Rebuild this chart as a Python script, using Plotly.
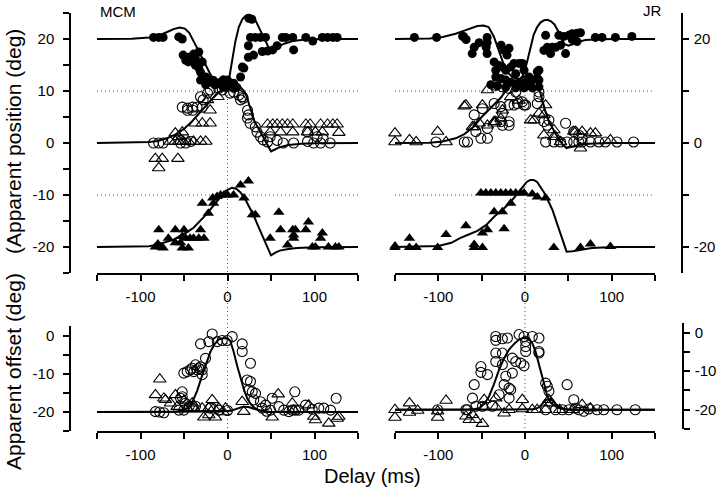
import plotly.graph_objects as go

# ---------------- MCM, apparent position ----------------
mcm_fc_x = [-85,-79,-74,-56,-52,-51,-45,-39,-33,-37,-45,-48,-37,-33,-29,-31,-25,-20,-14,-6,0,-5,-31,-25,-20,-16,-25,-14.6,-8,-4.6,0,3.4,-1.5,-5,7,10.7,1,7,15,17,18.8,24,30,24,24.5,28,26.4,32,37.9,43.7,40,46,52,57,63,67,75,76,90,98,109,115,121,126]
mcm_fc_y = [20.3,20.3,20.3,20.4,20.0,16.9,16.5,17.1,17.5,16.3,15.6,15.9,15.0,14.4,15.6,13.6,12.7,11.7,11.5,11.5,11.1,12.1,12.1,12.1,12.1,12.0,11.2,11.2,11.7,12.1,12.1,11.5,10.7,10.7,10.5,10.7,11.1,11.5,12.7,14.6,14.4,16.5,16.9,18.7,24.0,23.8,20.3,20.3,20.3,20.3,17.6,17.7,17.9,18.7,20.3,20.3,20.3,17.9,20.3,19.6,20.3,20.3,20.3,20.3]

mcm_oc_x = [-85,-79,-74,-54,-48,-42,-52,-46,-40,-35,-29,-46,-40,-23,-20,-28,-31,-10,-6,3,7,13,18,17,15,23,24,23,26,32,34,38,41,46,49,57,64,76,92,99,107,118,92,103,110]
mcm_oc_y = [0,0,0,0,0,0.3,6.9,6.7,6.9,6.9,6.9,6.3,6.3,9.6,10.2,8.3,8.9,10.5,10.2,9.6,9.8,9.2,8.6,8.9,8.3,6.3,5.4,4.8,3.8,3.1,2.1,1.2,0.6,0.2,1.2,0.5,0,0,0.3,0,0,0,2.1,1.2,0.8]

mcm_ot_x = [-66,-60,-56,-51,-45,-39,-31,-25,-60,-52,-56,-37,-29,-20,-20,-23,-11,-83,-75,-79,-57,46,52,57,63,69,75,90,95,107,115,121,126,49,61,75,92,101,109,128]
mcm_ot_y = [0.3,0.3,0.3,0.3,0.3,0.3,0.3,0.3,1.9,2.1,1.2,3.8,3.8,3.8,6.3,8.3,8.9,-3,-3,-4.8,-3,3.6,3.6,3.6,3.6,3.6,3.6,3.6,3.6,3.6,3.6,3.6,3.6,2.1,2.1,2.1,2.1,2.1,2.1,2.0]

mcm_ft_x = [-83,-77,-74,-80,-79,-68,-60,-60,-54,-50,-52,-48,-52,-45,-43,-39,-33,-31,-27,-29,-22,-17,-16,-12,-8,-4,0,7,15,24,19,28.6,32,49,59,61,69,75,76,76,78,90,93,97.5,101,107,109,116,124,128]
mcm_ft_y = [-20,-20,-20.2,-19.4,-16.7,-18.3,-16.7,-19.2,-19.2,-16.7,-18,-18.3,-20.2,-20.2,-18.3,-18.3,-18.3,-16.7,-18.3,-11.6,-13.5,-10.6,-11.6,-10.3,-10,-10,-10,-10,-8.1,-7.3,-10.6,-13.8,-13.8,-18.3,-13.3,-16.7,-19.6,-16.7,-17.7,-18.3,-16.7,-16.7,-15.2,-20,-20,-18.3,-17.3,-20,-20,-20]

mcm_cA_x = [-150,-110,-90,-80,-70,-62,-55,-49,-44,-40,-35,-29,-24,-19,-15,-10,-5,-1,2,5,9,13,17,21,25,29,33,37,41,45,49,53,57,65,75,90,110,150]
mcm_cA_y = [20,20.05,20.3,20.6,21.3,21.9,22.2,22.0,21.2,20.0,18.3,16.3,14.6,13.0,12.2,11.5,11.0,10.8,12.5,15.8,19.5,22.3,23.8,24.5,24.6,24.2,23.3,21.9,20.6,19.0,17.8,17.8,18.4,19.1,19.6,19.9,20,20]
mcm_cB_x = [-150,-110,-90,-80,-70,-60,-50,-40,-30,-23,-17,-12,-8,-4,0,5,10,15,19,22,25,28,31,35,39,43,47,50,55,60,70,85,100,150]
mcm_cB_y = [0,0.05,0.2,0.4,0.9,1.6,2.7,4.3,6.2,7.4,8.6,9.4,10.0,10.4,10.7,11.0,11.0,10.7,10.0,9.0,7.3,5.5,4.2,3.0,1.8,0.6,-0.7,-1.6,-1.2,-0.8,-0.4,-0.15,-0.05,0]
mcm_cC_x = [-150,-110,-90,-80,-70,-62,-55,-47,-39,-31,-23,-15,-8,-2,5,10,15,20,25,30,35,40,45,50,55,60,70,80,100,150]
mcm_cC_y = [-20,-19.95,-19.85,-19.5,-19.0,-18.6,-17.9,-17.2,-16.3,-15.0,-13.5,-11.8,-10.3,-9.2,-8.6,-8.8,-9.5,-10.7,-12.3,-13.9,-15.9,-17.8,-19.7,-21.6,-21.1,-20.7,-20.4,-20.2,-20.05,-20]

# ---------------- JR, apparent position ----------------
jr_fc_x = [-127.6,-102,-72,-71,-68,-58.6,-52.9,-43.7,-43.7,-44.8,-60.9,-43.7,-27.6,-24,-18.4,-20.7,-35.6,-33.7,-29.9,-26.1,-22.2,-16.5,-12.6,-6.9,-3.1,-10.7,-1.1,4.6,8.4,14.2,16.1,-33.7,-27.9,-22.2,-16.5,-10.7,-4.9,0.8,-39.4,-31.8,-22.2,-10.7,-1.1,8.4,16.1,23.8,21.8,25.7,31.4,29.5,39.1,44.8,50.6,54.4,60.1,64.0,46.8,54.4,60.1,81.2,88.9,104.3,123.3,29.5,35.3,41.0,16.1,14.2,6.5,0.8]
jr_fc_y = [20.3,20.3,20.5,20.5,19.9,18.4,19.3,20.3,19.3,18.4,17.2,17.2,18.8,17.8,18.2,16.9,15.6,14.0,14.9,14.6,14.0,14.6,15.3,15.3,15.3,13.3,14.0,12.7,12.1,13.7,12.1,12.7,12.4,12.1,11.7,11.4,11.7,11.7,11.2,11.0,10.7,10.6,10.6,10.6,10.8,20.7,17.8,18.4,18.4,17.2,20.7,20.5,20.7,21.0,21.1,21.2,17.2,19.9,19.5,20.3,20.3,20.3,20.5,18.1,18.4,18.8,14.0,12.4,12.1,11.1]

jr_oc_x = [-102.7,-70.1,-66.3,-50.9,-43.3,-58.6,-49.1,-56.7,-43.3,-35.6,-27.9,-26.1,-18.4,-18.4,-18.4,-26.1,-27.9,-33.7,-26.1,-18.4,-10.7,-3.1,0.8,-12.6,-8.8,-1.1,14.2,16.1,16.1,21.8,25.7,27.6,46.8,23.8,33.3,41.0,48.6,56.3,62.1,65.9,75.5,85.1,92.7,106.1,125.3,56.3,62.1,65.9]
jr_oc_y = [0.2,0.2,0.2,0.9,0.9,5.4,6.6,2.2,2.8,7.6,7.0,5.7,7.3,4.1,3.4,3.4,4.1,11.1,10.8,10.5,9.8,7.9,7.3,7.3,7.6,7.3,7.6,8.9,9.8,4.1,3.4,4.4,3.8,0.2,0.2,0.2,0.2,0.2,0.2,0.2,0.2,0.2,0.2,0.2,0.2,2.2,1.5,0.9]

jr_ot_x = [-177,-150,-150,-133.3,-125.6,-100.8,-91.1,-68.2,-49.1,-43.3,-58.6,-33.7,-27.9,-35.6,-60.6,-52.9,-43.3,-35.6,-26.1,-16.5,-6.9,-70.1,10.3,16.1,23.8,21.8,21.8,33.3,33.3,56.3,65.9,75.5,64,98.5,41,6.5,35.3,58.3,81.2]
jr_ot_y = [2.2,1.9,0.2,0.6,0.2,2.2,0.2,7.3,7.3,10.2,3.1,4.1,4.7,4.1,3.1,3.8,3.4,3.8,6.3,8.9,8.2,7.1,4.4,5.7,7.3,5.4,1.5,2.5,1.2,2.2,2.2,1.9,-1.0,0.6,0.2,4.4,1.2,2.2,1.9]

jr_ft_x = [-177,-150,-150,-133.3,-133.3,-125.6,-100.8,-91.1,-68.2,-58.6,-58.6,-49.1,-49.1,-43.3,-35.6,-26.1,-24.1,-16.5,-50.9,-45.2,-39.4,-33.7,-27.9,-22.2,-16.5,-10.7,-4.9,-1.1,8.4,14.2,23.8,33.3,64.0,75.5,98.5]
jr_ft_y = [-20.1,-20.1,-19.8,-18.3,-20.1,-20.1,-20.1,-17.6,-15.9,-19.5,-20.1,-20.1,-17.3,-16.7,-13.2,-13.2,-16.5,-11.6,-9.6,-9.6,-9.6,-9.6,-9.6,-9.6,-9.6,-9.6,-9.6,-9.6,-9.8,-10.4,-10.6,-20.1,-20.1,-19.4,-19.9]

jr_cA_x = [-150,-110,-95,-80,-70,-62,-55,-48,-42,-36,-30,-25,-20,-15,-10,-6,-3,0,3,6,10,14,18,22,26,30,34,38,42,46,50,55,62,70,85,110,150]
jr_cA_y = [20,20.1,20.4,21.0,21.6,22.1,22.5,22.6,22.3,20.5,17.5,15.3,13.6,12.7,12.4,12.3,12.8,14.0,16.0,18.2,20.8,22.3,23.2,23.6,23.7,23.4,22.8,21.6,20.0,19.0,18.7,19.0,19.5,19.8,19.95,20,20]
jr_cB_x = [-150,-110,-95,-80,-70,-60,-50,-42,-35,-28,-20,-13,-7,-2,3,8,12,16,20,24,28,32,36,40,44,48,52,58,65,80,100,150]
jr_cB_y = [0,0.05,0.3,0.9,1.7,3.0,5.0,6.3,7.5,8.7,10.6,11.6,12.2,12.7,13.0,12.9,12.3,10.7,8.2,5.8,4.0,2.7,1.6,0.5,-0.4,-1.0,-0.8,-0.5,-0.25,-0.1,0,0]
jr_cC_x = [-150,-100,-85,-75,-65,-55,-45,-35,-25,-18,-10,-3,2,6,10,14,18,22,27,32,37,42,48,55,65,77,90,110,150]
jr_cC_y = [-20,-19.8,-19.2,-18.3,-17.6,-16.9,-15.8,-14.1,-12.7,-11.6,-10.0,-8.4,-7.5,-7.1,-7.1,-7.5,-8.4,-9.5,-11.2,-13.0,-15.5,-17.9,-20.9,-20.8,-20.5,-20.2,-20.1,-20,-20]

# ---------------- MCM, apparent offset ----------------
mcm_off_oc_x = [-17.6,5.4,-31,-21.5,-11.8,-6.1,-0.4,16.9,16.9,-25.3,-31,-36.8,-40.6,-50.2,-46.3,-42.5,-38.7,-34.8,-33,-29.1,-29.1,26.4,22.6,26.4,24.5,28.4,32.2,30.2,-52.1,-52.1,-54,-48.3,-56,-50.2,-82.8,-73.2,-78,-40.6,-36.8,-44,37.9,43.7,39.8,51.4,59,49.4,64.7,70.5,74.4,77.4,89.7,97.4,104.9,110.7,118.4,124.9,78.2,82,-20,-10,0,45]
mcm_off_oc_y = [0.5,-0.2,-2.1,-1.5,-1.5,-1.2,-1.2,-2.1,-4.1,-5.9,-8.1,-7.6,-8.5,-9.8,-9.4,-8.9,-9.4,-8.9,-8.5,-8.9,-10.2,-7.2,-11.6,-12.0,-14.2,-14.7,-15.1,-16.8,-14.7,-16,-16.4,-17.7,-19.5,-19.5,-19.9,-20.2,-20,-18.5,-18.5,-18.5,-17.3,-18.2,-19.0,-16.4,-18.6,-19.5,-19.5,-19.9,-19.5,-14.7,-18.2,-19.3,-19.0,-19.0,-19.5,-16.4,-19.5,-19.5,-19,-19.5,-19.6,-19.8]
mcm_off_ot_x = [-77.8,-82.8,-73.2,-71.3,-65.5,-59.8,-57.8,-46.3,-38.7,-29.1,-21.5,-15.7,-10,-2.3,-17.6,-27.2,-13.8,-21.5,-40.6,16.9,18.7,51.4,58.3,74.4,76.2,93.4,99.2,101.1,116.4,126.1,128,-50,-5]
mcm_off_ot_y = [-11.4,-15.5,-16.4,-16.8,-17.7,-15.5,-18.6,-19.0,-19.0,-19.0,-19.0,-19.0,-19.0,-19.0,-16.8,-21.4,-21.4,-20.8,-17.7,-17.3,-19.9,-21.4,-15.3,-17.7,-19.5,-18.2,-21.2,-22.1,-23,-21.7,-21.2,-17,-20]
mcm_off_cO_x = [-150,-80,-60,-52,-46,-41,-35,-29,-24,-19.5,-15,-10,-5,0,3,7,11,15,19,23,27,31,35,40,47,55,80,150]
mcm_off_cO_y = [-20,-20,-19.95,-19.7,-19.0,-17.7,-14.5,-10.3,-6.9,-4.1,-2.2,-0.9,-0.6,-0.6,-1.2,-4.1,-7.8,-11.1,-14.2,-16.6,-18.0,-18.9,-19.4,-19.8,-20,-20,-20,-20]
mcm_off_cT_x = [-150,-20,-5,5,12,18,24,30,38,50,150]
mcm_off_cT_y = [-20,-20,-19.9,-19.6,-19.0,-18.6,-18.7,-19.2,-19.7,-20,-20]

# ---------------- JR, apparent offset ----------------
jr_off_oc_x = [-33.7,-33.7,-26.1,-20.3,-6.9,-1.1,8.4,16.1,0.8,0.8,0.8,16.1,16.1,-33.7,-26.1,-33.7,-26.1,-14.6,-10.7,-4.9,-1.1,-14.6,-22.2,-50.9,-50.9,-58.6,-60.6,-43.3,-24.1,-18.4,-16.5,-18.4,-29.9,23.8,25.7,27.6,48.6,56.3,58.3,67.8,73.6,83.1,90.8,106.1,127.2,23.8,35.3,42.9,50.6,62.1,-100.8,-68.2,-66.3,-49.1,-37.6,-56.7]
jr_off_oc_y = [-1.0,-2.0,-1.6,-1.4,-0.5,-1.0,-1.0,-1.4,-2.3,-3.6,-4.9,-4.9,-5.3,-5.3,-5.3,-7.5,-8.3,-6.6,-7.5,-7.9,-8.6,-10.5,-11.3,-8.8,-10.3,-13.5,-17.0,-10.9,-13.5,-14.4,-14.8,-17.0,-16.1,-13.1,-13.9,-15.2,-13.5,-17.4,-19.6,-20.4,-19.8,-20,-20,-20,-20,-20,-20,-20,-20,-20,-20,-20,-20,-19.1,-19.1,-19.1]
jr_off_ot_x = [-177,-150,-150,-133.3,-133.3,-123.8,-100.8,-100.8,-91.1,-68.2,-64.4,-60.6,-56.7,-49.1,-47.1,-47.1,-33.7,-33.7,-24.1,-18.4,-3.1,-3.1,8.4,27.6,29.5,23.8,65.9,75.5,14,40,55]
jr_off_ot_y = [-22.0,-20,-22,-18.3,-20.7,-20.2,-20.4,-22,-17.6,-21.7,-22.6,-21.3,-22.6,-23.6,-19.3,-17.4,-17,-19.3,-20.9,-20,-17.4,-19.8,-20,-17.4,-18.3,-20,-18.7,-19.6,-20,-20,-20]
jr_off_cO_x = [-150,-80,-65,-58,-52.9,-47,-41.4,-36,-29.9,-24,-18.4,-12,-6.9,-2,1,5,8.4,12,15,18,22,25.7,30,35.3,40,45,60,150]
jr_off_cO_y = [-20,-20,-19.95,-19.8,-19.6,-18.5,-16.5,-13.5,-9.6,-6.6,-4.4,-2.8,-1.8,-1.4,-1.4,-1.8,-2.7,-4.8,-7.2,-9.6,-13.2,-16.5,-18.3,-19.1,-19.6,-19.9,-20,-20]
jr_off_cT_x = [-150,0,10,16,20,24,28,32,36,42,50,150]
jr_off_cT_y = [-20,-20,-19.9,-19.4,-18.5,-17.5,-17.2,-17.6,-18.6,-19.6,-20,-20]

FONT = "Liberation Sans, Arial, Helvetica, sans-serif"
W, H = 720, 493

def px(x):
    return x / W

def py(y):
    return 1 - y / H

fig = go.Figure()

def pts(x, y, sym, size, xa, ya, lw=1.1):
    fig.add_trace(go.Scatter(
        x=x, y=y, mode="markers", xaxis=xa, yaxis=ya, cliponaxis=False,
        marker=dict(symbol=sym, size=size, color="black",
                    line=dict(color="black", width=lw)),
        hoverinfo="skip"))

def curve(x, y, xa, ya):
    fig.add_trace(go.Scatter(
        x=x, y=y, mode="lines", xaxis=xa, yaxis=ya, cliponaxis=False,
        line=dict(color="black", width=2), hoverinfo="skip"))

# top-left
pts(mcm_fc_x, mcm_fc_y, "circle", 9, "x", "y", 0)
pts(mcm_oc_x, mcm_oc_y, "circle-open", 10, "x", "y")
pts(mcm_ot_x, mcm_ot_y, "triangle-up-open", 11, "x", "y")
pts(mcm_ft_x, mcm_ft_y, "triangle-up", 10, "x", "y", 0)
curve(mcm_cA_x, mcm_cA_y, "x", "y")
curve(mcm_cB_x, mcm_cB_y, "x", "y")
curve(mcm_cC_x, mcm_cC_y, "x", "y")
# top-right
pts(jr_fc_x, jr_fc_y, "circle", 9, "x2", "y2", 0)
pts(jr_oc_x, jr_oc_y, "circle-open", 10, "x2", "y2")
pts(jr_ot_x, jr_ot_y, "triangle-up-open", 11, "x2", "y2")
pts(jr_ft_x, jr_ft_y, "triangle-up", 10, "x2", "y2", 0)
curve(jr_cA_x, jr_cA_y, "x2", "y2")
curve(jr_cB_x, jr_cB_y, "x2", "y2")
curve(jr_cC_x, jr_cC_y, "x2", "y2")
# bottom-left
pts(mcm_off_oc_x, mcm_off_oc_y, "circle-open", 10, "x3", "y3")
pts(mcm_off_ot_x, mcm_off_ot_y, "triangle-up-open", 11, "x3", "y3")
curve(mcm_off_cO_x, mcm_off_cO_y, "x3", "y3")
curve(mcm_off_cT_x, mcm_off_cT_y, "x3", "y3")
# bottom-right
pts(jr_off_oc_x, jr_off_oc_y, "circle-open", 10, "x4", "y4")
pts(jr_off_ot_x, jr_off_ot_y, "triangle-up-open", 11, "x4", "y4")
curve(jr_off_cO_x, jr_off_cO_y, "x4", "y4")
curve(jr_off_cT_x, jr_off_cT_y, "x4", "y4")

x_ticks = [-150, -100, -50, 0, 50, 100, 150]
x_text = ["", "-100", "", "0", "", "100", ""]

def xaxis(dom, pos):
    return dict(domain=dom, range=[-150, 150], anchor="free", position=pos,
                showline=True, linecolor="black", linewidth=1.5,
                ticks="outside", ticklen=6, tickwidth=1.5, tickcolor="black",
                tickvals=x_ticks, ticktext=x_text, showgrid=False, zeroline=False,
                tickfont=dict(family=FONT, size=15, color="black"),
                ticklabelstandoff=3, fixedrange=True)

def yaxis(dom, rng, pos, side, tv, tt, standoff):
    return dict(domain=dom, range=rng, anchor="free", position=pos, side=side,
                showline=True, linecolor="black", linewidth=1.5,
                ticks="outside", ticklen=6, tickwidth=1.5, tickcolor="black",
                tickvals=tv, ticktext=tt, showgrid=False, zeroline=False,
                tickfont=dict(family=FONT, size=15, color="black"),
                ticklabelstandoff=standoff, fixedrange=True)

xl = [px(97), px(358)]
xr = [px(395), px(655)]
top_dom = [py(273), py(13)]
bl_dom = [py(431), py(326)]
br_dom = [py(429), py(323)]

pos_tv = [-25, -20, -15, -10, -5, 0, 5, 10, 15, 20, 25]
pos_tt = ["", "-20", "", "-10", "", "0", "", "10", "", "20", ""]
pos_tv_r = [-20, -10, 0, 10, 20]
pos_tt_r = ["-20", "", "0", "", "20"]
off_tv = [-25, -20, -15, -10, -5, 0]
off_tt = ["", "-20", "", "-10", "", "0"]

layout_shapes = []
dot = dict(color="#555", width=1, dash="1px,3px")
for xr_, yr_ in [("x", "y"), ("x2", "y2")]:
    for lvl in (10, -10):
        layout_shapes.append(dict(type="line", xref=xr_, yref=yr_, x0=-150, x1=150,
                                  y0=lvl, y1=lvl, line=dot, layer="below"))
for xr_ in ("x", "x2"):
    layout_shapes.append(dict(type="line", xref=xr_, yref="paper", x0=0, x1=0,
                              y0=py(436), y1=py(91), line=dot, layer="below"))

def label(text, x, y, size, angle=0):
    return dict(text=text, x=px(x), y=py(y), xref="paper", yref="paper",
                xanchor="center", yanchor="middle", showarrow=False,
                textangle=angle, font=dict(size=size))

fig.update_layout(
    width=W, height=H, margin=dict(l=0, r=0, t=0, b=0),
    paper_bgcolor="white", plot_bgcolor="rgba(0,0,0,0)", showlegend=False,
    font=dict(family=FONT, color="black"),
    xaxis=xaxis(xl, py(274)),
    xaxis2=xaxis(xr, py(274)),
    xaxis3=xaxis(xl, py(432)),
    xaxis4=xaxis(xr, py(432)),
    yaxis=yaxis(top_dom, [-25, 25], px(70), "left", pos_tv, pos_tt, 6),
    yaxis2=yaxis(top_dom, [-25, 25], px(682), "right", pos_tv_r, pos_tt_r, 2),
    yaxis3=yaxis(bl_dom, [-25, 2.6], px(70), "left", off_tv, off_tt, 6),
    yaxis4=yaxis(br_dom, [-25, 2.5], px(683), "right", off_tv, off_tt, 2),
    shapes=layout_shapes,
    annotations=[
        label("MCM", 118, 12, 15),
        label("JR", 652, 10, 15),
        label("Delay (ms)", 372, 476, 20),
        label("(Apparent position (deg)", 13, 142, 21, -90),
        label("Apparent offset (deg)", 13, 372, 21, -90),
    ],
)

fig.write_html("out.html", config={"displayModeBar": False},
               post_script="document.body.style.margin='0px';")
